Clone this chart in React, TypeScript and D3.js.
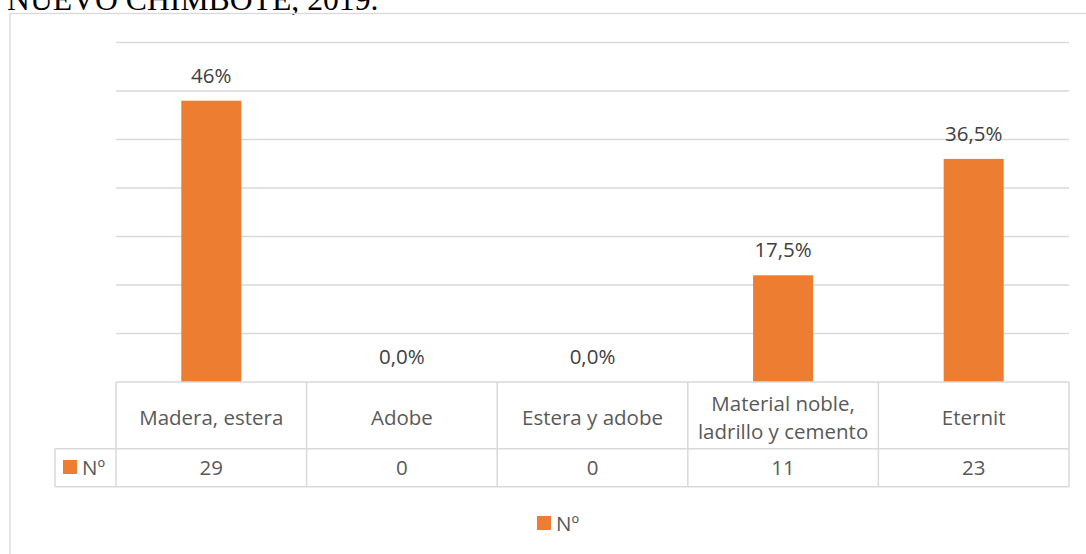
import * as d3 from 'd3';

const categories = ['Madera, estera', 'Adobe', 'Estera y adobe', 'Material noble,\nladrillo y cemento', 'Eternit'];
const counts = [29, 0, 0, 11, 23];
const percentLabels = ['46%', '0,0%', '0,0%', '17,5%', '36,5%'];
const yTicks = [5, 10, 15, 20, 25, 30, 35];
const seriesName = 'Nº';
const titleText = 'NUEVO CHIMBOTE, 2019.';

const W = 1086;
const H = 554;
const FONT = '"Open Sans", "DejaVu Sans", sans-serif';
const ORANGE = '#ed7d31';
const GRID = '#d9d9d9';

export default function App() {
  // zona del gráfico y tabla de datos
  const left = 116;
  const right = 1069;
  const top = 42.5;
  const base = 382;
  const rowSplit = 448.7;
  const tableBottom = 486.7;
  const legendCellLeft = 55;

  const xCol = d3.scaleBand<string>().domain(categories).range([left, right]).padding(0);
  const xBar = d3.scaleBand<string>().domain(categories).range([left, right])
    .paddingInner(0.685).paddingOuter(0.3425);
  const y = d3.scaleLinear().domain([0, 35]).range([base, top]);

  return (
    <svg width={W} height={H} style={{ position: 'absolute', left: 0, top: 0, display: 'block', background: '#fff' }}>
      {/* título cortado arriba */}
      <text x={7} y={10} fontFamily='"Liberation Serif", "Times New Roman", serif' fontSize={31.7} fill="#000">
        {titleText}
      </text>
      {/* borde del gráfico */}
      <rect x={10} y={13.5} width={W + 20} height={H} fill="none" stroke={GRID} strokeWidth={1.3} />

      {/* líneas de la cuadrícula */}
      {yTicks.map(t => (
        <line key={t} x1={left} x2={right} y1={y(t)} y2={y(t)} stroke={GRID} strokeWidth={1.3} />
      ))}

      {/* barras */}
      {categories.map((c, i) => (
        <rect key={c} x={xBar(c)} y={y(counts[i])} width={xBar.bandwidth()} height={base - y(counts[i])} fill={ORANGE} />
      ))}

      {/* etiquetas de porcentaje */}
      {categories.map((c, i) => (
        <text key={c} x={xCol(c)! + xCol.bandwidth() / 2} y={y(counts[i]) - 18} textAnchor="middle"
          fontFamily={FONT} fontSize={20.5} fill="#404040">
          {percentLabels[i]}
        </text>
      ))}

      {/* tabla de datos */}
      <g stroke={GRID} strokeWidth={1.5} fill="none">
        <line x1={left} x2={right} y1={base} y2={base} />
        <line x1={legendCellLeft} x2={right} y1={rowSplit} y2={rowSplit} />
        <line x1={legendCellLeft} x2={right} y1={tableBottom} y2={tableBottom} />
        <line x1={legendCellLeft} x2={legendCellLeft} y1={rowSplit} y2={tableBottom} />
        {categories.map(c => (
          <line key={c} x1={xCol(c)} x2={xCol(c)} y1={base} y2={tableBottom} />
        ))}
        <line x1={right} x2={right} y1={base} y2={tableBottom} />
      </g>

      {categories.map(c => {
        const lines = c.split('\n');
        const cx = xCol(c)! + xCol.bandwidth() / 2;
        const lh = 28;
        const firstBaseline = 425 - ((lines.length - 1) * lh) / 2;
        return (
          <text key={c} textAnchor="middle" fontFamily={FONT} fontSize={20.5} fill="#595959">
            {lines.map((l, j) => (
              <tspan key={j} x={cx} y={firstBaseline + j * lh}>{l}</tspan>
            ))}
          </text>
        );
      })}

      {categories.map((c, i) => (
        <text key={c} x={xCol(c)! + xCol.bandwidth() / 2} y={475} textAnchor="middle"
          fontFamily={FONT} fontSize={20.5} fill="#595959">
          {counts[i]}
        </text>
      ))}

      {/* clave de la serie en la tabla */}
      <rect x={63} y={460} width={14} height={14} fill={ORANGE} />
      <text x={82} y={475} fontFamily={FONT} fontSize={20.5} fill="#595959">{seriesName}</text>

      {/* leyenda inferior */}
      <rect x={537} y={516} width={14} height={14} fill={ORANGE} />
      <text x={556} y={530.5} fontFamily={FONT} fontSize={20.5} fill="#595959">{seriesName}</text>
    </svg>
  );
}
